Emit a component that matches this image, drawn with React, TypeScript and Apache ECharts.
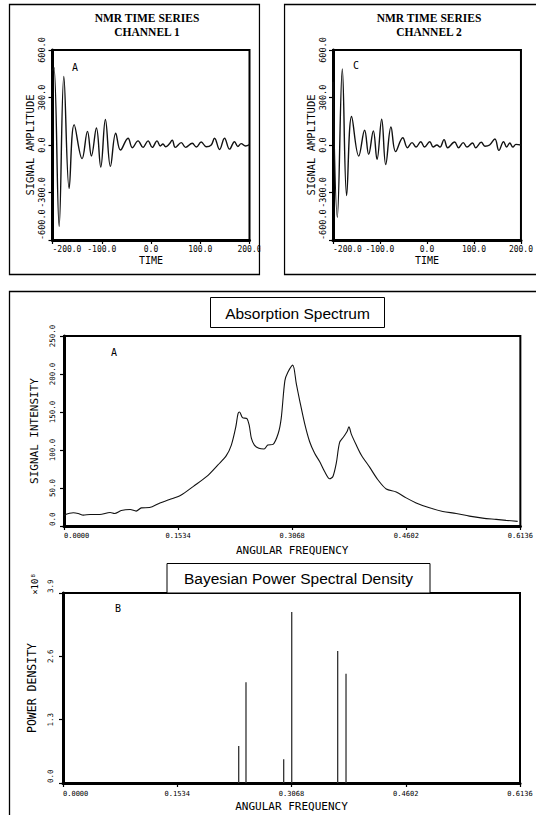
import React, { useEffect, useRef } from 'react';
import * as echarts from 'echarts';

// ---- Data ----
const ch1Time = [-200, -197, -186.5, -177, -166.2, -156, -139.9, -129, -121, -110.8, -102, -92.6, -82.4, -71.6, -62, -46.6, -37.8, -26.3, -16.2, -6, 2.7, 12.2, 18.9, 24.3, 29.7, 36.5, 43.2, 49.3, 61.5, 70.3, 83.8, 91.9, 102, 112.2, 122.3, 129, 139.2, 149.3, 159.5, 169.6, 176.4, 183.1, 191.9, 200];
const ch1Amp = [470, 490, -514, 433, -274, 129, -86, 86, -69, 107, -139, 161, -135, 75, -32, 43, -17, 26, -15, 26, -15, 26, -6, 6, -11, 4, 30, -15, 15, -15, 11, -13, 19, -11, 0, 43, -28, 43, -26, 21, -9, 9, -6, 2];

const ch2Time = [-200, -190.8, -180.2, -171, -160.4, -145.2, -132.7, -124.1, -114.2, -106.3, -96.4, -87.8, -76.6, -66.7, -51.5, -41.6, -31.7, -23.1, -13.2, -5.3, 5.9, 13.2, 21.1, 27.7, 36.3, 44.2, 58.7, 67.3, 77.2, 85.1, 97, 103.6, 115.5, 123.4, 133.3, 144.5, 153.1, 163, 169.6, 176.2, 182.8, 189.4, 200];
const ch2Amp = [400, -456, 480, -319, 180, -70, 93, -59, 89, -91, 163, -123, 114, -42, 46, -17, 15, -13, 21, -13, 21, -13, 0, -13, 34, -17, 19, -17, 15, -13, 13, -17, 17, -8, 0, 38, -34, 21, -13, 13, -13, 4, 0];

const absFreq = [0, 0.0125, 0.019, 0.026, 0.035, 0.048, 0.062, 0.068, 0.077, 0.089, 0.097, 0.104, 0.115, 0.129, 0.142, 0.157, 0.174, 0.192, 0.207, 0.218, 0.225, 0.231, 0.234, 0.236, 0.240, 0.246, 0.249, 0.252, 0.256, 0.262, 0.269, 0.274, 0.281, 0.288, 0.292, 0.297, 0.301, 0.3075, 0.3124, 0.3169, 0.3236, 0.3303, 0.337, 0.3437, 0.3504, 0.3572, 0.3616, 0.3661, 0.3706, 0.376, 0.3804, 0.3831, 0.3863, 0.393, 0.3997, 0.4109, 0.422, 0.4333, 0.4467, 0.4601, 0.4735, 0.4914, 0.5093, 0.5273, 0.5451, 0.563, 0.581, 0.5944, 0.61];
const absIntensity = [14.3, 17.4, 16.5, 14.3, 15.2, 15.2, 17.8, 16.5, 20.4, 21.7, 19.6, 23.9, 24.3, 30.4, 34.8, 40.4, 52.2, 65.2, 80.4, 92.2, 106.5, 130.4, 147.8, 150, 142.6, 141.3, 132.6, 115.2, 106.5, 102.2, 101.3, 106.5, 107.4, 121.7, 141.3, 191.3, 202.2, 211.7, 187, 165, 134.8, 110.9, 95.7, 84.8, 71.7, 62.2, 65.2, 82.6, 110, 117.4, 123.9, 130.4, 120.9, 106.5, 93.5, 77.4, 60.9, 48.7, 44.8, 37, 30.4, 23.9, 19.1, 16.5, 13, 10.4, 8.7, 7.4, 6.1];

const psdFreq = [0.2359, 0.2457, 0.2963, 0.3071, 0.3688, 0.38];
const psdPower = [0.76, 2.07, 0.49, 3.51, 2.71, 2.24];

const mono = '"DejaVu Sans Mono", "Liberation Mono", monospace';
const serif = '"Liberation Serif", "DejaVu Serif", serif';
const sans = '"Liberation Sans", Arial, sans-serif';

function mkX(gridIndex: number, min: number, max: number, interval: number, digits: number, name: string, o: any) {
  return {
    type: 'value', gridIndex, min, max, interval,
    name, nameLocation: 'middle', nameGap: o.nameGap,
    nameTextStyle: { fontFamily: mono, fontSize: o.nameSize, color: '#000' },
    axisLine: { show: true, onZero: false, lineStyle: { color: '#000', width: 3 } },
    axisTick: { show: true, length: 4, lineStyle: { color: '#000', width: 1.2 } },
    axisLabel: {
      formatter: (v: number) => v.toFixed(digits), fontFamily: mono, fontSize: o.labelSize,
      color: '#000', margin: o.margin, alignMinLabel: 'left', showMaxLabel: true, showMinLabel: true,
    },
    splitLine: { show: false },
  };
}
function mkY(gridIndex: number, min: number, max: number, interval: number, digits: number, name: string, o: any) {
  return {
    type: 'value', gridIndex, min, max, interval,
    name, nameLocation: 'middle', nameGap: o.nameGap,
    nameTextStyle: { fontFamily: mono, fontSize: o.nameSize, color: '#000' },
    axisLine: { show: true, onZero: false, lineStyle: { color: '#000', width: 3 } },
    axisTick: { show: true, length: 4, lineStyle: { color: '#000', width: 1.2 } },
    axisLabel: {
      formatter: (v: number) => v.toFixed(digits), fontFamily: mono, fontSize: o.labelSize,
      color: '#000', margin: o.margin, rotate: 90, alignMinLabel: 'left',
      alignMaxLabel: o.maxAlign || 'center', showMaxLabel: true, showMinLabel: true,
    },
    splitLine: { show: false },
  };
}

const gridBase = { show: true, borderColor: '#000', borderWidth: 2, backgroundColor: 'transparent' };

function plotLabel(text: string, x: number, y: number) {
  return { type: 'text', x, y, z: 50, style: { text, fontFamily: mono, fontSize: 10, fill: '#000', textAlign: 'center', textVerticalAlign: 'middle' } };
}

export default function App() {
  const ref = useRef<HTMLDivElement>(null);
  useEffect(() => {
    if (!ref.current) return;
    const chart = echarts.init(ref.current, undefined, { renderer: 'svg' });
    const option: any = {
      animation: false,
      backgroundColor: '#fff',
      grid: [
        { ...gridBase, left: 52.5, top: 50, width: 197, height: 190 },
        { ...gridBase, left: 333, top: 50, width: 202, height: 190 },
        { ...gridBase, left: 64, top: 336, width: 457, height: 190 },
        { ...gridBase, left: 63, top: 593, width: 457, height: 190 },
      ],
      xAxis: [
        mkX(0, -200, 200, 100, 1, 'TIME', { nameGap: 15, nameSize: 10, labelSize: 8, margin: 5 }),
        mkX(1, -200, 200, 100, 1, 'TIME', { nameGap: 15, nameSize: 10, labelSize: 8, margin: 5 }),
        mkX(2, 0, 0.6136, 0.1534, 4, 'ANGULAR FREQUENCY', { nameGap: 19, nameSize: 11, labelSize: 7, margin: 6 }),
        mkX(3, 0, 0.6136, 0.1534, 4, 'ANGULAR FREQUENCY', { nameGap: 18, nameSize: 11, labelSize: 7, margin: 7 }),
      ],
      yAxis: [
        mkY(0, -600, 600, 300, 1, 'SIGNAL AMPLITUDE', { nameGap: 17, nameSize: 10.5, labelSize: 8.5, margin: 6 }),
        mkY(1, -600, 600, 300, 1, 'SIGNAL AMPLITUDE', { nameGap: 17, nameSize: 10.5, labelSize: 8.5, margin: 6 }),
        mkY(2, 0, 250, 50, 1, 'SIGNAL INTENSITY', { nameGap: 21, nameSize: 11, labelSize: 7.5, margin: 8 }),
        mkY(3, 0, 3.9, 1.3, 1, 'POWER DENSITY', { nameGap: 21, nameSize: 11.5, labelSize: 7.5, margin: 9, maxAlign: 'left' }),
      ],
      series: [
        {
          type: 'line', xAxisIndex: 0, yAxisIndex: 0, showSymbol: false, smooth: 0.4,
          data: ch1Time.map((t, i) => [t, ch1Amp[i]]), lineStyle: { color: '#111', width: 1.4 },
        },
        {
          type: 'line', xAxisIndex: 1, yAxisIndex: 1, showSymbol: false, smooth: 0.4,
          data: ch2Time.map((t, i) => [t, ch2Amp[i]]), lineStyle: { color: '#111', width: 1.4 },
        },
        {
          type: 'line', xAxisIndex: 2, yAxisIndex: 2, showSymbol: false, smooth: 0.3,
          data: absFreq.map((f, i) => [f, absIntensity[i]]), lineStyle: { color: '#111', width: 1.1 },
        },
        {
          type: 'bar', xAxisIndex: 3, yAxisIndex: 3, barWidth: 1.3,
          data: psdFreq.map((f, i) => [f, psdPower[i]]), itemStyle: { color: '#333' },
        },
      ],
      graphic: [
        // panel boxes
        { type: 'rect', shape: { x: 9.5, y: 4.5, width: 250, height: 270 }, style: { fill: 'none', stroke: '#000', lineWidth: 1.3 }, z: 10 },
        { type: 'rect', shape: { x: 284.5, y: 4.5, width: 260, height: 270 }, style: { fill: 'none', stroke: '#000', lineWidth: 1.3 }, z: 10 },
        { type: 'rect', shape: { x: 9.5, y: 291.5, width: 540, height: 540 }, style: { fill: 'none', stroke: '#000', lineWidth: 1.3 }, z: 10 },
        // gap between top panels (hides overflow)
        { type: 'rect', shape: { x: 260.5, y: 0, width: 23, height: 285 }, style: { fill: '#fff' }, z: 100 },
        // top titles
        { type: 'text', x: 147, y: 18, z: 50, style: { text: 'NMR TIME SERIES', fontFamily: serif, fontWeight: 'bold', fontSize: 11.5, fill: '#000', textAlign: 'center', textVerticalAlign: 'middle' } },
        { type: 'text', x: 147, y: 32, z: 50, style: { text: 'CHANNEL 1', fontFamily: serif, fontWeight: 'bold', fontSize: 11.5, fill: '#000', textAlign: 'center', textVerticalAlign: 'middle' } },
        { type: 'text', x: 429, y: 18, z: 50, style: { text: 'NMR TIME SERIES', fontFamily: serif, fontWeight: 'bold', fontSize: 11.5, fill: '#000', textAlign: 'center', textVerticalAlign: 'middle' } },
        { type: 'text', x: 429, y: 32, z: 50, style: { text: 'CHANNEL 2', fontFamily: serif, fontWeight: 'bold', fontSize: 11.5, fill: '#000', textAlign: 'center', textVerticalAlign: 'middle' } },
        // title boxes
        { type: 'rect', shape: { x: 210.5, y: 297.5, width: 174, height: 30 }, style: { fill: '#fff', stroke: '#000', lineWidth: 1 }, z: 40 },
        { type: 'text', x: 297.5, y: 313, z: 50, style: { text: 'Absorption Spectrum', fontFamily: sans, fontSize: 15.5, fill: '#000', textAlign: 'center', textVerticalAlign: 'middle' } },
        { type: 'rect', shape: { x: 167, y: 563.5, width: 263, height: 29.5 }, style: { fill: '#fff', stroke: '#000', lineWidth: 1 }, z: 40 },
        { type: 'text', x: 298.5, y: 578.5, z: 50, style: { text: 'Bayesian Power Spectral Density', fontFamily: sans, fontSize: 15.5, fill: '#000', textAlign: 'center', textVerticalAlign: 'middle' } },
        // plot letters
        plotLabel('A', 75, 67),
        plotLabel('C', 356, 65),
        plotLabel('A', 114, 352),
        plotLabel('B', 118, 608),
        // exponent label
        { type: 'text', x: 35, y: 584, rotation: Math.PI / 2, z: 50, style: { text: '×10⁸', fontFamily: mono, fontSize: 9, fill: '#000', textAlign: 'center', textVerticalAlign: 'middle' } },
      ],
    };
    chart.setOption(option);
    return () => chart.dispose();
  }, []);
  return <div ref={ref} style={{ position: 'absolute', left: 0, top: 0, width: 536, height: 815 }} />;
}
